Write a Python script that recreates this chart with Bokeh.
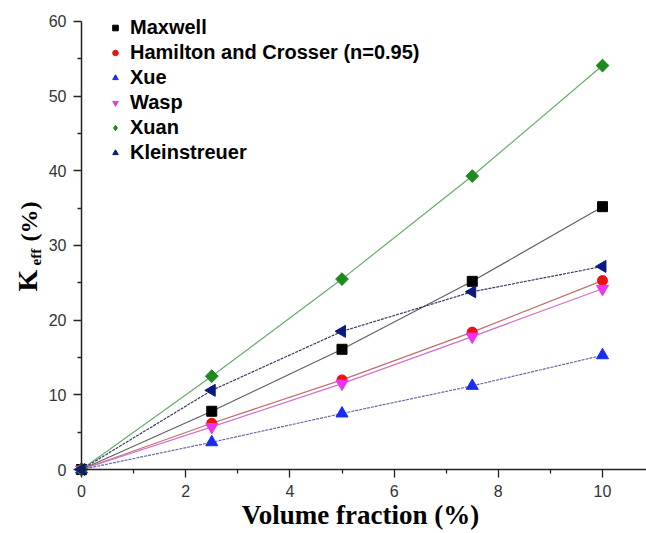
import math
from bokeh.plotting import figure
from bokeh.models import Legend, LegendItem, Label, Range1d, FixedTicker, LinearAxis
from bokeh.embed import file_html
from bokeh.resources import INLINE

phi = [0, 2.5, 5, 7.5, 10]
maxwell = [0, 7.8, 16.1, 25.2, 35.2]
hamilton = [0, 6.2, 12.0, 18.4, 25.3]
xue = [0, 3.65, 7.5, 11.2, 15.3]
wasp = [0, 5.7, 11.5, 17.8, 24.2]
xuan = [0, 12.5, 25.5, 39.3, 54.1]
klein = [0, 10.6, 18.5, 23.8, 27.2]

names = ["Maxwell", "Hamilton and Crosser (n=0.95)", "Xue", "Wasp", "Xuan", "Kleinstreuer"]
x_ticks = [0, 2, 4, 6, 8, 10]
y_ticks = [0, 10, 20, 30, 40, 50, 60]

W, H = 646, 533
X0, PXX = 81.0, 52.1          # pixel of x=0, pixels per x unit
Y0, PXY = 469.0, 7.4667       # pixel of y=0 (from top), pixels per y unit
x_end = (W - X0) / PXX
p = figure(width=W, height=H, output_backend="svg", toolbar_location=None,
           x_range=Range1d(-X0 / PXX, x_end),
           y_range=Range1d(-(H - Y0) / PXY, Y0 / PXY),
           x_axis_location=None, y_axis_location=None,
           min_border=0)
p.outline_line_color = None
p.grid.visible = False
p.background_fill_color = "white"

xaxis = LinearAxis(fixed_location=0, bounds=(0, x_end))
yaxis = LinearAxis(fixed_location=0, bounds=(0, 60))
p.add_layout(xaxis, "below")
p.add_layout(yaxis, "left")

series = [
    (maxwell, "square", 0, "black", "#606060", None, 10),
    (hamilton, "circle", 0, "#ee1111", "#c0706a", None, 10),
    (xue, "triangle", 0, "#1a2cf0", "#6a6aaa", "3 1", 12),
    (wasp, "inverted_triangle", 0, "#ee33ee", "#d070d0", None, 12),
    (xuan, "square", math.pi / 4, "#1e8a1e", "#6aaa6a", None, 9),
    (klein, "triangle", math.pi / 2, "#0a1a80", "#3a3a6a", "3 1", 12),
]

items = []
for (ys, mk, ang, mc, lc, dash, sz), nm in zip(series, names):
    if dash:
        p.line(phi, ys, line_color=lc, line_width=1.2, line_dash=dash)
    else:
        p.line(phi, ys, line_color=lc, line_width=1.2)
    if nm == "Xuan":
        # diamond underneath the rotated square, used for the legend glyph
        leg_r = p.scatter(phi, ys, marker="diamond", size=12, fill_color=mc, line_color=mc)
    r = p.scatter(phi, ys, marker=mk, angle=ang, size=sz, fill_color=mc, line_color=mc)
    items.append(LegendItem(label=nm, renderers=[leg_r if nm == "Xuan" else r]))

legend = Legend(items=items, location=(108, H - 15 - 6 * 25), border_line_color=None,
                background_fill_alpha=0, padding=0, spacing=0,
                label_height=25, glyph_height=25, glyph_width=14, label_standoff=8,
                label_text_font="Liberation Sans", label_text_font_style="bold",
                label_text_font_size="20px", label_text_color="black", margin=0)
p.add_layout(legend, "center")

for ax in (xaxis, yaxis):
    ax.axis_line_color = "#222222"
    ax.axis_line_width = 1.5
    ax.major_tick_line_color = "#222222"
    ax.minor_tick_line_color = "#222222"
    ax.major_tick_line_width = 1.3
    ax.minor_tick_line_width = 1.3
    ax.major_tick_out = 8
    ax.major_tick_in = 0
    ax.minor_tick_out = 4
    ax.minor_tick_in = 0
    ax.major_label_text_font = "Liberation Sans"
    ax.major_label_text_font_size = "16px"
    ax.major_label_text_color = "#333333"
    ax.major_label_standoff = 7

xaxis.ticker = FixedTicker(ticks=x_ticks, minor_ticks=[1, 3, 5, 7, 9])
yaxis.ticker = FixedTicker(ticks=y_ticks, minor_ticks=[5, 15, 25, 35, 45, 55])

# axis titles (screen units measured from the bottom-left of the canvas)
p.add_layout(Label(x=360, y=H - 514, x_units="screen", y_units="screen",
                   text="Volume fraction (%)", text_font="Liberation Serif",
                   text_font_style="bold", text_font_size="27px", text_color="black",
                   text_align="center", text_baseline="middle"))
lab_kw = dict(x_units="screen", y_units="screen", angle=math.pi / 2,
              text_font="Liberation Serif", text_font_style="bold",
              text_align="left", text_baseline="middle", text_color="black")
p.add_layout(Label(x=27, y=H - 291, text="K", text_font_size="28px", **lab_kw))
p.add_layout(Label(x=35, y=H - 265, text="eff", text_font_size="15px", **lab_kw))
p.add_layout(Label(x=28, y=H - 241, text="(%)", text_font_size="24px", **lab_kw))

open("out.html", "w").write(file_html(p, INLINE))
